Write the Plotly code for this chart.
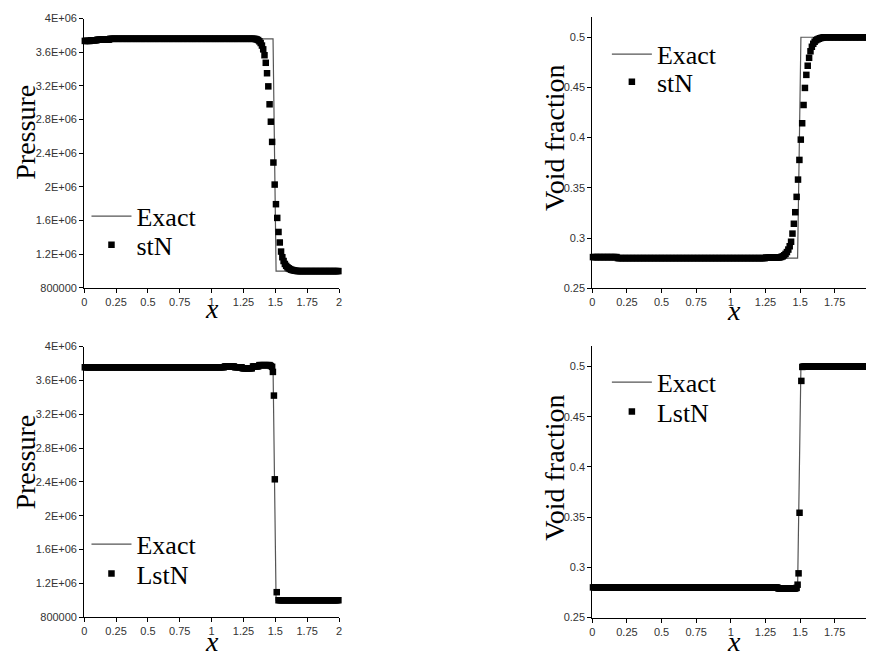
import plotly.graph_objects as go

W, H = 874, 660
OFF = 8  # page body margin of the rendered html

# ---------------- data ----------------
x_tickvals = [0, 0.25, 0.5, 0.75, 1, 1.25, 1.5, 1.75, 2]
x_ticktext = ["0", "0.25", "0.5", "0.75", "1", "1.25", "1.5", "1.75", "2"]
p_tickvals = [800000, 1.2e6, 1.6e6, 2.0e6, 2.4e6, 2.8e6, 3.2e6, 3.6e6, 4.0e6]
p_ticktext = ["800000", "1.2E+06", "1.6E+06", "2E+06", "2.4E+06", "2.8E+06", "3.2E+06", "3.6E+06", "4E+06"]
a_tickvals = [0.25, 0.3, 0.35, 0.4, 0.45, 0.5]
a_ticktext = ["0.25", "0.3", "0.35", "0.4", "0.45", "0.5"]

# exact solution
exact_x = [0.0, 1.482, 1.506, 2.0]
exact_p = [3.76e6, 3.76e6, 1.0e6, 1.0e6]
exact_a = [0.28, 0.28, 0.5, 0.5]

# stN pressure: plateau segments (start, end, value) + front points
stN_p_left = [(0.005, 0.045, 3.735e6), (0.055, 0.095, 3.742e6),
              (0.105, 0.195, 3.75e6), (0.205, 1.335, 3.76e6)]
stN_p_front_x = [1.345, 1.355, 1.365, 1.375, 1.385, 1.395, 1.405, 1.415, 1.425, 1.435,
                 1.445, 1.455, 1.465, 1.475, 1.485, 1.495, 1.505, 1.515, 1.525, 1.535,
                 1.545, 1.555, 1.565, 1.575, 1.585, 1.595, 1.605, 1.615, 1.625, 1.635,
                 1.645, 1.655, 1.665]
stN_p_front_y = [3.757e6, 3.752e6, 3.745e6, 3.73e6, 3.71e6, 3.68e6, 3.635e6, 3.565e6, 3.475e6, 3.351e6,
                 3.195e6, 2.982e6, 2.775e6, 2.535e6, 2.29e6, 2.028e6, 1.795e6, 1.632e6, 1.465e6, 1.34e6,
                 1.232e6, 1.165e6, 1.12e6, 1.085e6, 1.062e6, 1.045e6, 1.033e6, 1.024e6, 1.017e6, 1.012e6,
                 1.008e6, 1.005e6, 1.003e6]
stN_p_right = [(1.675, 1.995, 1.0e6)]

# stN void fraction
stN_a_left = [(0.005, 0.175, 0.281), (0.185, 1.245, 0.28), (1.255, 1.335, 0.2805)]
stN_a_front_x = stN_p_front_x
stN_a_front_y = [0.2806, 0.2808, 0.2812, 0.2818, 0.2828, 0.2842, 0.2860, 0.2885, 0.2918, 0.2963,
                 0.3044, 0.3142, 0.3257, 0.341, 0.3582, 0.3778, 0.398, 0.4143, 0.4325, 0.4495,
                 0.4625, 0.4716, 0.4795, 0.486, 0.4905, 0.4935, 0.4955, 0.497, 0.4978, 0.4985,
                 0.499, 0.4994, 0.4997]
stN_a_right = [(1.675, 1.995, 0.5)]

# LstN pressure
LstN_p_left = [(0.005, 1.095, 3.755e6), (1.105, 1.175, 3.765e6), (1.185, 1.235, 3.755e6),
               (1.245, 1.315, 3.742e6), (1.325, 1.365, 3.765e6), (1.375, 1.455, 3.78e6),
               (1.465, 1.465, 3.77e6)]
LstN_p_front_x = [1.475, 1.481, 1.489, 1.496, 1.511]
LstN_p_front_y = [3.76e6, 3.70e6, 3.42e6, 2.43e6, 1.095e6]
LstN_p_right = [(1.525, 1.995, 1.0e6)]

# LstN void fraction
LstN_a_left = [(0.005, 1.335, 0.28), (1.345, 1.465, 0.2788)]
LstN_a_front_x = [1.475, 1.482, 1.489, 1.496, 1.509, 1.516]
LstN_a_front_y = [0.2795, 0.2827, 0.294, 0.3543, 0.4856, 0.4995]
LstN_a_right = [(1.525, 1.995, 0.5)]


def expand(segments):
    xs, ys = [], []
    for a, b, v in segments:
        n = int(round((b - a) / 0.01)) + 1
        for i in range(n):
            xs.append(round(a + 0.01 * i, 3))
            ys.append(v)
    return xs, ys


def series(left, fx, fy, right):
    lx, ly = expand(left)
    rx, ry = expand(right)
    return lx + list(fx) + rx, ly + list(fy) + ry


def fxp(px):
    return (px - OFF) / W


def fyp(py):
    return 1 - (py - OFF) / H


# ---------------- figure ----------------
fig = go.Figure()

SERIF = "Liberation Serif"
SANS = "Liberation Sans"

panels = [
    ("", exact_p, series(stN_p_left, stN_p_front_x, stN_p_front_y, stN_p_right), "stN",
     (81.7, 338.3), (12.7, 287.0), [800000, 4.0e6], (p_tickvals, p_ticktext), ("legend", "legend2")),
    ("2", exact_a, series(stN_a_left, stN_a_front_x, stN_a_front_y, stN_a_right), "stN",
     (593.3, 872.3), (11.0, 287.3), [0.25, 0.5202], (a_tickvals, a_ticktext), ("legend3", "legend4")),
    ("3", exact_p, series(LstN_p_left, LstN_p_front_x, LstN_p_front_y, LstN_p_right), "LstN",
     (81.7, 338.3), (346.7, 622.3), [800000, 4.0e6], (p_tickvals, p_ticktext), ("legend5", "legend6")),
    ("4", exact_a, series(LstN_a_left, LstN_a_front_x, LstN_a_front_y, LstN_a_right), "LstN",
     (593.3, 872.3), (346.0, 622.7), [0.25, 0.5205], (a_tickvals, a_ticktext), ("legend7", "legend8")),
]

layout = dict(
    width=W, height=H, margin=dict(l=0, r=0, t=0, b=0),
    paper_bgcolor="white", plot_bgcolor="white",
    showlegend=True,
)

axis_common = dict(
    showline=True, linecolor="#000000", linewidth=1,
    ticks="outside", ticklen=4, tickwidth=1, tickcolor="#000000",
    showgrid=False, zeroline=False,
    tickfont=dict(family=SANS, size=11, color="#333333"),
)

for suf, ey, (sx, sy), name, xd, yd, yr, (tv, tt), legs in panels:
    xa = "x" + suf
    ya = "y" + suf
    fig.add_trace(go.Scatter(
        x=exact_x, y=ey, mode="lines", name="Exact",
        line=dict(color="#555555", width=1.2),
        xaxis=xa, yaxis=ya, legend=legs[0], cliponaxis=False,
    ))
    fig.add_trace(go.Scatter(
        x=sx, y=sy, mode="markers", name=name,
        marker=dict(symbol="square", size=6.5, color="#000000", line=dict(width=0)),
        xaxis=xa, yaxis=ya, legend=legs[1], cliponaxis=False,
    ))
    layout["xaxis" + suf] = dict(
        axis_common, domain=[fxp(xd[0]), fxp(xd[1])], range=[0, 2],
        tickvals=x_tickvals, ticktext=x_ticktext, anchor=ya,
    )
    layout["yaxis" + suf] = dict(
        axis_common, domain=[fyp(yd[1]), fyp(yd[0])], range=yr,
        tickvals=tv, ticktext=tt, anchor=xa,
    )

# legends: one per entry so each can be placed exactly
legend_pos = {
    "legend": (89, 214), "legend2": (89, 243),
    "legend3": (613, 49), "legend4": (613, 77),
    "legend5": (89, 548), "legend6": (89, 578),
    "legend7": (613, 383), "legend8": (613, 413),
}
for key, (px, py) in legend_pos.items():
    layout[key] = dict(
        x=fxp(px - 5), y=fyp(py), xanchor="left", yanchor="middle",
        bgcolor="rgba(0,0,0,0)", borderwidth=0,
        font=dict(family=SERIF, size=26, color="#000000"),
        itemwidth=40,
    )

fig.update_layout(**layout)

# axis titles
titles = [
    ("Pressure", 23, 128, -90, False),
    ("Void fraction", 555, 134, -90, False),
    ("Pressure", 23, 464, -90, False),
    ("Void fraction", 555, 470, -90, False),
    ("x", 210, 308, 0, True),
    ("x", 736, 310, 0, True),
    ("x", 210, 647, 0, True),
    ("x", 736, 647, 0, True),
]
for text, px, py, ang, ital in titles:
    fig.add_annotation(
        text=("<i>%s</i>" % text) if ital else text,
        x=fxp(px), y=fyp(py), xref="paper", yref="paper",
        xanchor="center", yanchor="middle", showarrow=False, textangle=ang,
        font=dict(family=SERIF, size=28, color="#000000"),
    )

fig.write_html("out.html")
